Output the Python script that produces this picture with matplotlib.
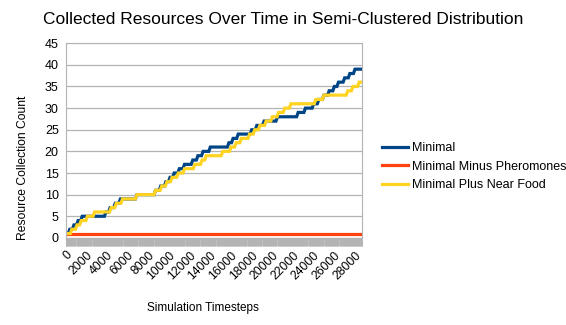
import matplotlib
matplotlib.use("Agg")
import matplotlib.pyplot as plt
from matplotlib.ticker import MultipleLocator

plt.rcParams['font.family'] = ['Liberation Sans', 'DejaVu Sans']

# step data: timestep where the count reaches each value
minimal_t = [0, 400, 800, 1200, 1600, 3900, 4300, 4800, 5300, 6900,
             8700, 9200, 9700, 10100, 10500, 11000, 11500, 12300, 12800, 13300, 14000,
             15800, 16200, 16700, 18000, 18500, 19200, 20500, 22500, 23200,
             24000, 24500, 25000, 25500, 26000, 26400, 27000, 27500, 28000, 28700]
minimal_v = [1, 2, 3, 4, 5, 6, 7, 8, 9, 10,
             11, 12, 13, 14, 15, 16, 17, 18, 19, 20, 21,
             22, 23, 24, 25, 26, 27, 28, 29, 30,
             31, 32, 33, 34, 35, 36, 37, 38, 39, 39]

minus_t = [0, 28700]
minus_v = [1, 1]

near_t = [0, 600, 1100, 1500, 2100, 2800, 4400, 4900, 5500, 6900,
          8700, 9300, 9800, 10300, 10900, 11500, 12500, 13200, 13600,
          15200, 16000, 16500, 17000, 17800, 18300, 18800, 19400, 20000, 20600, 21200, 21800,
          24200, 25000, 27300, 27800, 28400, 28700]
near_v = [1, 2, 3, 4, 5, 6, 7, 8, 9, 10,
          11, 12, 13, 14, 15, 16, 17, 18, 19,
          20, 21, 22, 23, 24, 25, 26, 27, 28, 29, 30, 31,
          32, 33, 34, 35, 36, 36]

SAMPLE = 150  # sampling interval of the recorded runs -> slanted risers


def sampled(ts, vs):
    xs, ys = [ts[0]], [vs[0]]
    for i in range(1, len(ts)):
        hold = max(ts[i] - SAMPLE, xs[-1])
        xs += [hold, ts[i]]
        ys += [vs[i - 1], vs[i]]
    return xs, ys


fig = plt.figure(figsize=(5.66, 3.25), dpi=100)
ax = fig.add_axes([0.116, 0.268, 0.524, 0.599])

for ts, vs, col, lab in [(minimal_t, minimal_v, '#004586', 'Minimal'),
                         (minus_t, minus_v, '#ff420e', 'Minimal Minus Pheromones'),
                         (near_t, near_v, '#ffd320', 'Minimal Plus Near Food')]:
    xs, ys = sampled(ts, vs)
    ax.plot(xs, ys, color=col, lw=2.3, label=lab, solid_joinstyle='miter')

ax.set_xlim(0, 28700)
ax.set_ylim(0, 45)
ax.yaxis.set_major_locator(MultipleLocator(5))
ax.xaxis.set_major_locator(MultipleLocator(2000))
ax.xaxis.set_minor_locator(MultipleLocator(50))
ax.grid(axis='y', color='#b3b3b3', lw=0.9)
ax.set_axisbelow(True)
for s in ax.spines.values():
    s.set_color('#b3b3b3')
ax.tick_params(axis='y', length=0, labelsize=9, pad=5)
ax.tick_params(axis='x', which='both', length=6, color='#b3b3b3', labelsize=8.8, pad=2)
plt.setp(ax.get_xticklabels(), rotation=45, ha='right', rotation_mode='anchor')

fig.text(0.5, 0.94, 'Collected Resources Over Time in Semi-Clustered Distribution',
         ha='center', va='center', fontsize=12.5)
ax.set_xlabel('Simulation Timesteps', fontsize=8.5)
ax.xaxis.set_label_coords(0.464, -0.33)
ax.set_ylabel('Resource Collection Count', fontsize=8.7)
ax.yaxis.set_label_coords(-0.124, 0.36)

fig.legend(loc='center left', bbox_to_anchor=(0.655, 0.487), frameon=False, fontsize=9,
           handlelength=2.1, handletextpad=0.3, labelspacing=0.5)

fig.savefig('out.png', dpi=100)
